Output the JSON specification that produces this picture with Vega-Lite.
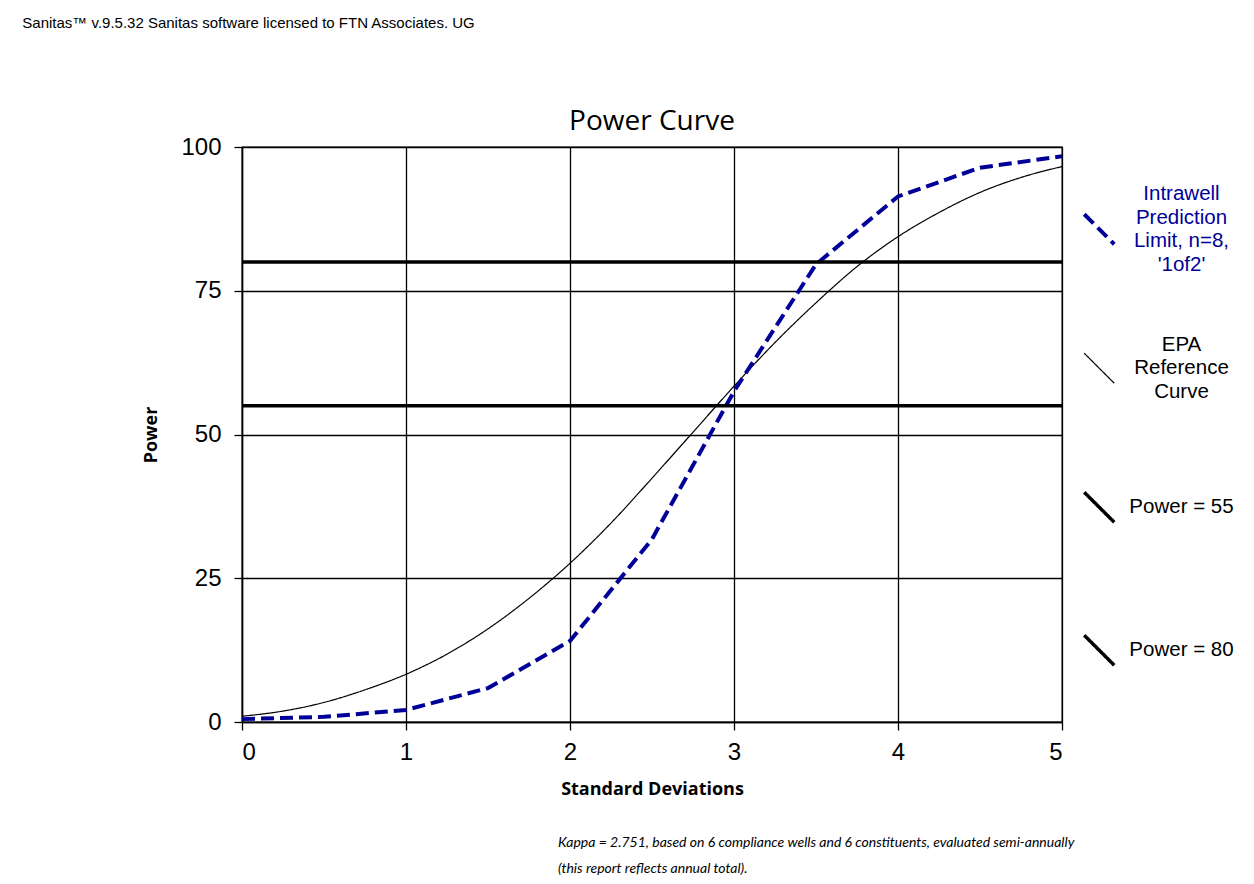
{
  "$schema": "https://vega.github.io/schema/vega-lite/v6.json",
  "background": "white",
  "padding": {"left": 22, "top": 16, "right": 5, "bottom": 5},
  "title": {
    "text": "Sanitas™ v.9.5.32 Sanitas software licensed to FTN Associates. UG",
    "anchor": "start",
    "frame": "bounds",
    "dx": -120,
    "font": "Liberation Sans",
    "fontSize": 15,
    "fontWeight": "normal",
    "color": "black",
    "offset": 76
  },
  "vconcat": [
    {
      "title": {
        "text": [
          "Kappa = 2.751, based on 6 compliance wells and 6 constituents, evaluated semi-annually",
          "(this report reflects annual total)."
        ],
        "orient": "bottom",
        "anchor": "start",
        "frame": "group",
        "dx": 316,
        "font": "Lato",
        "fontStyle": "italic",
        "fontSize": 14,
        "fontWeight": "normal",
        "lineHeight": 26,
        "offset": 37,
        "color": "black"
      },
      "resolve": {
        "scale": {"color": "independent", "strokeDash": "independent"},
        "legend": {"color": "independent", "strokeDash": "independent"}
      },
      "vconcat": [
        {
          "title": {
            "text": "Power Curve",
            "font": "Open Sans",
            "fontSize": 28,
            "fontWeight": "normal",
            "color": "black",
            "offset": -1
          },
          "width": 820,
          "height": 575,
          "data": {
            "values": [
              {"sd": 0, "power": 1.0, "series": "EPA Reference Curve"},
              {"sd": 0.25, "power": 1.9, "series": "EPA Reference Curve"},
              {"sd": 0.5, "power": 3.4, "series": "EPA Reference Curve"},
              {"sd": 0.75, "power": 5.6, "series": "EPA Reference Curve"},
              {"sd": 1, "power": 8.3, "series": "EPA Reference Curve"},
              {"sd": 1.25, "power": 11.8, "series": "EPA Reference Curve"},
              {"sd": 1.5, "power": 16.2, "series": "EPA Reference Curve"},
              {"sd": 1.75, "power": 21.5, "series": "EPA Reference Curve"},
              {"sd": 2, "power": 27.6, "series": "EPA Reference Curve"},
              {"sd": 2.25, "power": 34.6, "series": "EPA Reference Curve"},
              {"sd": 2.5, "power": 42.4, "series": "EPA Reference Curve"},
              {"sd": 2.75, "power": 50.4, "series": "EPA Reference Curve"},
              {"sd": 3, "power": 58.4, "series": "EPA Reference Curve"},
              {"sd": 3.25, "power": 66.0, "series": "EPA Reference Curve"},
              {"sd": 3.5, "power": 72.9, "series": "EPA Reference Curve"},
              {"sd": 3.75, "power": 79.2, "series": "EPA Reference Curve"},
              {"sd": 4, "power": 84.4, "series": "EPA Reference Curve"},
              {"sd": 4.25, "power": 88.6, "series": "EPA Reference Curve"},
              {"sd": 4.5, "power": 92.1, "series": "EPA Reference Curve"},
              {"sd": 4.75, "power": 94.7, "series": "EPA Reference Curve"},
              {"sd": 5, "power": 96.6, "series": "EPA Reference Curve"},
              {"sd": 0, "power": 0.5, "series": "Intrawell Prediction Limit, n=8, '1of2'"},
              {"sd": 0.5, "power": 0.9, "series": "Intrawell Prediction Limit, n=8, '1of2'"},
              {"sd": 1, "power": 2.1, "series": "Intrawell Prediction Limit, n=8, '1of2'"},
              {"sd": 1.5, "power": 5.9, "series": "Intrawell Prediction Limit, n=8, '1of2'"},
              {"sd": 2, "power": 14.1, "series": "Intrawell Prediction Limit, n=8, '1of2'"},
              {"sd": 2.5, "power": 31.8, "series": "Intrawell Prediction Limit, n=8, '1of2'"},
              {"sd": 3, "power": 57.5, "series": "Intrawell Prediction Limit, n=8, '1of2'"},
              {"sd": 3.5, "power": 79.6, "series": "Intrawell Prediction Limit, n=8, '1of2'"},
              {"sd": 4, "power": 91.4, "series": "Intrawell Prediction Limit, n=8, '1of2'"},
              {"sd": 4.5, "power": 96.4, "series": "Intrawell Prediction Limit, n=8, '1of2'"},
              {"sd": 5, "power": 98.4, "series": "Intrawell Prediction Limit, n=8, '1of2'"},
              {"power": 55, "series": "Power = 55"},
              {"power": 80, "series": "Power = 80"}
            ]
          },
          "encoding": {
            "y": {
              "field": "power",
              "type": "quantitative",
              "title": "Power",
              "scale": {"domain": [0, 100], "nice": false},
              "axis": {"values": [0, 25, 50, 75, 100], "labelFontSize": 24, "labelPadding": 13, "titlePadding": 20}
            },
            "color": {
              "field": "series",
              "type": "nominal",
              "scale": {
                "domain": ["Intrawell Prediction Limit, n=8, '1of2'", "EPA Reference Curve", "Power = 55", "Power = 80"],
                "range": ["#000099", "black", "black", "black"]
              },
              "legend": {
                "title": " ",
                "titleFontSize": 10,
                "titlePadding": 40,
                "orient": "right",
                "offset": -3,
                "padding": 22,
                "symbolType": "M0,-3.9M0,3.9M-1,-1L1,1",
                "symbolSize": 900,
                "symbolFillColor": "transparent",
                "labelFont": "Liberation Sans",
                "labelFontSize": 20.5,
                "labelAlign": "center",
                "labelBaseline": "middle",
                "labelOffset": 72,
                "labelLimit": 0,
                "rowPadding": 11,
                "labelExpr": "datum.value == 'EPA Reference Curve' ? ['EPA', 'Reference', 'Curve'] : datum.value == 'Power = 55' ? 'Power = 55' : datum.value == 'Power = 80' ? 'Power = 80' : ['Intrawell', 'Prediction', 'Limit, n=8,', \"'1of2'\"]",
                "encode": {
                  "labels": {
                    "update": {
                      "fill": {"signal": "datum.value == 'EPA Reference Curve' || datum.value == 'Power = 55' || datum.value == 'Power = 80' ? 'black' : '#000099'"},
                      "lineHeight": {"value": 23.5},
                      "dy": {"signal": "datum.value == 'EPA Reference Curve' ? -23.5 : datum.value == 'Power = 55' || datum.value == 'Power = 80' ? 0 : -35.25"}
                    }
                  },
                  "symbols": {
                    "update": {
                      "strokeWidth": {"signal": "datum.value == 'EPA Reference Curve' ? 1.2 : datum.value == 'Power = 55' || datum.value == 'Power = 80' ? 3.5 : 4"},
                      "fill": {"value": "transparent"}
                    }
                  }
                }
              }
            },
            "strokeDash": {
              "field": "series",
              "type": "nominal",
              "scale": {
                "domain": ["Intrawell Prediction Limit, n=8, '1of2'", "EPA Reference Curve", "Power = 55", "Power = 80"],
                "range": [[13, 6], [1, 0], [1, 0], [1, 0]]
              },
              "legend": null
            }
          },
          "layer": [
            {
              "transform": [{"filter": "datum.series == 'EPA Reference Curve'"}],
              "mark": {"type": "line", "interpolate": "monotone", "strokeWidth": 1.2},
              "encoding": {
                "x": {
                  "field": "sd",
                  "type": "quantitative",
                  "title": "Standard Deviations",
                  "scale": {"domain": [0, 5], "nice": false},
                  "axis": {"values": [0, 1, 2, 3, 4, 5], "format": "d", "labelFontSize": 24, "titlePadding": 16}
                }
              }
            },
            {
              "transform": [{"filter": "datum.series == \"Intrawell Prediction Limit, n=8, '1of2'\""}],
              "mark": {"type": "line", "interpolate": "linear", "strokeWidth": 4},
              "encoding": {
                "x": {"field": "sd", "type": "quantitative"}
              }
            },
            {
              "transform": [{"filter": "datum.series == 'Power = 55' || datum.series == 'Power = 80'"}],
              "mark": {"type": "rule", "strokeWidth": 3.5},
              "encoding": {}
            }
          ]
        }
      ]
    }
  ],
  "config": {
    "font": "Liberation Sans",
    "view": {"stroke": "black", "strokeWidth": 1.3},
    "axis": {
      "domainColor": "black",
      "domainWidth": 1.5,
      "gridColor": "black",
      "gridWidth": 1.3,
      "gridOpacity": 1,
      "tickColor": "black",
      "tickWidth": 1.3,
      "tickSize": 8,
      "labelColor": "black",
      "labelFont": "Liberation Sans",
      "labelPadding": 10,
      "titleFont": "Open Sans",
      "titleFontSize": 18,
      "titleFontWeight": "bold",
      "titleColor": "black"
    }
  }
}
